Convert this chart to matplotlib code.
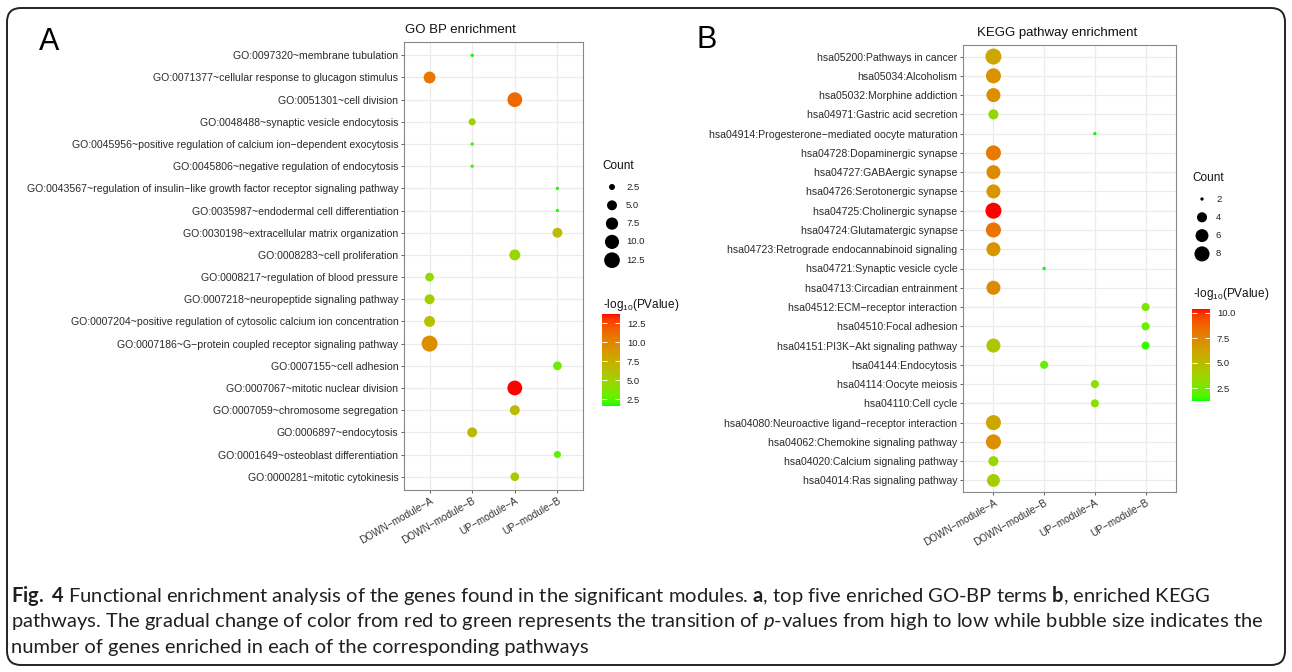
import numpy as np
import matplotlib
matplotlib.use('Agg')
import matplotlib.pyplot as plt
from matplotlib import cm
from matplotlib.colors import ListedColormap, Normalize
from matplotlib.patches import FancyBboxPatch

plt.rcParams['font.family'] = ['Liberation Sans', 'DejaVu Sans']
plt.rcParams['mathtext.fontset'] = 'custom'
plt.rcParams['mathtext.rm'] = 'Lato'
plt.rcParams['mathtext.bf'] = 'Lato:bold'
plt.rcParams['mathtext.it'] = 'Lato:italic'
plt.rcParams['mathtext.default'] = 'regular'

modules = ['DOWN−module−A', 'DOWN−module−B', 'UP−module−A', 'UP−module−B']

# panel A: GO BP
go_terms = [
    'GO:0097320~membrane tubulation',
    'GO:0071377~cellular response to glucagon stimulus',
    'GO:0051301~cell division',
    'GO:0048488~synaptic vesicle endocytosis',
    'GO:0045956~positive regulation of calcium ion−dependent exocytosis',
    'GO:0045806~negative regulation of endocytosis',
    'GO:0043567~regulation of insulin−like growth factor receptor signaling pathway',
    'GO:0035987~endodermal cell differentiation',
    'GO:0030198~extracellular matrix organization',
    'GO:0008283~cell proliferation',
    'GO:0008217~regulation of blood pressure',
    'GO:0007218~neuropeptide signaling pathway',
    'GO:0007204~positive regulation of cytosolic calcium ion concentration',
    'GO:0007186~G−protein coupled receptor signaling pathway',
    'GO:0007155~cell adhesion',
    'GO:0007067~mitotic nuclear division',
    'GO:0007059~chromosome segregation',
    'GO:0006897~endocytosis',
    'GO:0001649~osteoblast differentiation',
    'GO:0000281~mitotic cytokinesis',
]
go_module = [1, 0, 2, 1, 1, 1, 3, 3, 3, 2, 0, 0, 0, 0, 3, 2, 2, 1, 3, 2]
go_count = [2, 7, 11, 3, 2, 2, 2, 2, 5, 6, 4, 5, 6, 13, 4, 11, 5, 5, 3, 4]
go_logp = [1.6, 10.7, 11.3, 5.0, 1.8, 1.8, 1.7, 1.7, 6.5, 4.6,
           4.4, 5.2, 6.3, 9.4, 2.9, 13.7, 6.6, 6.6, 2.6, 5.6]

# panel B: KEGG
kegg_terms = [
    'hsa05200:Pathways in cancer',
    'hsa05034:Alcoholism',
    'hsa05032:Morphine addiction',
    'hsa04971:Gastric acid secretion',
    'hsa04914:Progesterone−mediated oocyte maturation',
    'hsa04728:Dopaminergic synapse',
    'hsa04727:GABAergic synapse',
    'hsa04726:Serotonergic synapse',
    'hsa04725:Cholinergic synapse',
    'hsa04724:Glutamatergic synapse',
    'hsa04723:Retrograde endocannabinoid signaling',
    'hsa04721:Synaptic vesicle cycle',
    'hsa04713:Circadian entrainment',
    'hsa04512:ECM−receptor interaction',
    'hsa04510:Focal adhesion',
    'hsa04151:PI3K−Akt signaling pathway',
    'hsa04144:Endocytosis',
    'hsa04114:Oocyte meiosis',
    'hsa04110:Cell cycle',
    'hsa04080:Neuroactive ligand−receptor interaction',
    'hsa04062:Chemokine signaling pathway',
    'hsa04020:Calcium signaling pathway',
    'hsa04014:Ras signaling pathway',
]
kegg_pt_term = [0, 1, 2, 3, 4, 5, 6, 7, 8, 9, 10, 11, 12, 13, 14, 15, 15, 16, 17, 18, 19, 20, 21, 22]
kegg_module = [0, 0, 0, 0, 2, 0, 0, 0, 0, 0, 0, 1, 0, 3, 3, 0, 3, 1, 2, 2, 0, 0, 0, 0]
kegg_count = [9, 8, 7, 4, 2, 8, 7, 7, 9, 8, 7, 2, 7, 3, 3, 7, 3, 3, 3, 3, 8, 8, 4, 6]
kegg_logp = [6.0, 7.0, 7.2, 3.5, 1.2, 7.9, 7.3, 6.8, 10.4, 8.2, 6.9, 1.2,
             7.3, 2.7, 2.3, 4.4, 1.5, 2.2, 3.0, 3.0, 6.0, 7.1, 3.4, 4.0]


def srgb_to_lab(rgb):
    c = np.asarray(rgb, float)
    c = np.where(c > 0.04045, ((c + 0.055) / 1.055) ** 2.4, c / 12.92)
    m = np.array([[0.4124, 0.3576, 0.1805], [0.2126, 0.7152, 0.0722], [0.0193, 0.1192, 0.9505]])
    xyz = m @ c / np.array([0.95047, 1.0, 1.08883])
    f = np.where(xyz > 0.008856, np.cbrt(xyz), 7.787 * xyz + 16 / 116)
    return np.array([116 * f[1] - 16, 500 * (f[0] - f[1]), 200 * (f[1] - f[2])])


def lab_to_srgb(lab):
    L, a, b = lab
    fy = (L + 16) / 116
    f = np.array([fy + a / 500, fy, fy - b / 200])
    xyz = np.where(f ** 3 > 0.008856, f ** 3, (f - 16 / 116) / 7.787) * np.array([0.95047, 1.0, 1.08883])
    m = np.array([[3.2406, -1.5372, -0.4986], [-0.9689, 1.8758, 0.0415], [0.0557, -0.2040, 1.0570]])
    c = m @ xyz
    c = np.where(c > 0.0031308, 1.055 * np.clip(c, 0, None) ** (1 / 2.4) - 0.055, 12.92 * c)
    return np.clip(c, 0, 1)


lab_lo, lab_hi = srgb_to_lab([0, 1, 0]), srgb_to_lab([1, 0, 0])
cmap = ListedColormap([lab_to_srgb(lab_lo + t * (lab_hi - lab_lo)) for t in np.linspace(0, 1, 256)])

W, H = 1292, 672
fig = plt.figure(figsize=(W / 100, H / 100), dpi=100)


def px_axes(x0, y0, x1, y1):
    return fig.add_axes([x0 / W, 1 - y1 / H, (x1 - x0) / W, (y1 - y0) / H])


over = fig.add_axes([0, 0, 1, 1], zorder=-5)
over.set_xlim(0, W)
over.set_ylim(H, 0)
over.axis('off')
over.add_patch(FancyBboxPatch((7, 8), 1278, 657, boxstyle='round,pad=0,rounding_size=14',
                              fc='none', ec='#222222', lw=1.4))


def dot_size(v, vmin, vmax):
    d = 3.3 + 12.7 * np.sqrt((np.asarray(v, float) - vmin) / (vmax - vmin))
    return (d * 0.72) ** 2


def panel(box, terms, rows, mods, counts, logp, title, title_x, title_y,
          breaks, leg_x, leg_y, cbox, cticks, ctitle_y):
    ax = px_axes(*box)
    n = len(terms)
    ypos = n - 1 - np.asarray(rows)
    cmin, cmax = min(counts), max(counts)
    norm = Normalize(min(logp), max(logp))
    ax.scatter(np.asarray(mods) + 1, ypos, s=dot_size(counts, cmin, cmax),
               c=logp, cmap=cmap, norm=norm, linewidths=0, zorder=3)
    ax.set_xlim(0.4, 4.6)
    ax.set_ylim(-0.6, n - 0.4)
    ax.set_xticks(range(1, 5))
    ax.set_xticklabels(modules, rotation=30, ha='right', va='top', rotation_mode='anchor',
                       fontsize=7.2, color='#333333')
    ax.set_yticks(range(n))
    ax.set_yticklabels(terms[::-1], fontsize=7.6, color='#2a2a2a')
    ax.tick_params(length=2.5, width=0.6, color='#444444', pad=1.5)
    ax.grid(True, color='#EBEBEB', lw=0.9, zorder=0)
    ax.set_axisbelow(True)
    for sp in ax.spines.values():
        sp.set_color('#888888')
        sp.set_linewidth(0.8)
    over.text(title_x, title_y, title, fontsize=9.5, ha='left', va='center', color='#111111')

    # size legend
    over.text(leg_x - 10, leg_y - 21, 'Count', fontsize=8.5, ha='left', va='center', color='#111111')
    ky = leg_y + 18.3 * np.arange(len(breaks))
    over.scatter(np.full(len(breaks), leg_x), ky, s=dot_size(breaks, cmin, cmax), c='black', linewidths=0)
    for b, y in zip(breaks, ky):
        over.text(leg_x + 14, y, ('%g' % b) if float(b).is_integer() and len(breaks) < 5 else '%.1f' % b,
                  fontsize=6.8, ha='left', va='center', color='#222222')

    # colour bar
    cax = px_axes(*cbox)
    cb = fig.colorbar(cm.ScalarMappable(norm=norm, cmap=cmap), cax=cax)
    cb.outline.set_visible(False)
    cb.set_ticks(cticks)
    cb.set_ticklabels(['%.1f' % t for t in cticks])
    cax.tick_params(direction='in', length=3.5, width=0.7, color='white', left=True, right=True,
                    labelsize=6.8, labelcolor='#222222', pad=5)
    over.text(cbox[0] + 1, ctitle_y, '-log$_{10}$(PValue)', fontsize=8.5, ha='left', va='center',
              color='#111111')


panel((404, 42, 583, 490), go_terms, list(range(len(go_terms))), go_module, go_count, go_logp,
      'GO BP enrichment', 405, 30, [2.5, 5.0, 7.5, 10.0, 12.5], 612, 187,
      (602, 314, 620, 406), [2.5, 5.0, 7.5, 10.0, 12.5], 305)
panel((963, 45, 1176, 492), kegg_terms, kegg_pt_term, kegg_module, kegg_count, kegg_logp,
      'KEGG pathway enrichment', 977, 33, [2, 4, 6, 8], 1202, 199,
      (1192, 309, 1210, 401), [2.5, 5.0, 7.5, 10.0], 294)

over.text(49, 42, 'A', fontsize=22, ha='center', va='center', color='black')
over.text(707, 40, 'B', fontsize=22, ha='center', va='center', color='black')

# caption; one font size, the largest that keeps every line inside its width in the figure
cap_lines = [
    r'$\mathbf{Fig.\ 4}$ Functional enrichment analysis of the genes found in the significant '
    r'modules. $\mathbf{a}$, top five enriched GO-BP terms $\mathbf{b}$, enriched KEGG',
    r'pathways. The gradual change of color from red to green represents the transition of '
    r'$\mathit{p}$-values from high to low while bubble size indicates the',
    'number of genes enriched in each of the corresponding pathways',
]
cap_y = [596, 622, 648]
cap_w = [1237, 1256, 582]
renderer = fig.canvas.get_renderer()
sizes = []
for line, w in zip(cap_lines, cap_w):
    probe = over.text(11, 596, line, fontsize=14, family='Lato')
    sizes.append(14 * w / probe.get_window_extent(renderer).width)
    probe.remove()
cap_size = min(sizes)
for line, y in zip(cap_lines, cap_y):
    over.text(11, y, line, fontsize=cap_size, ha='left', va='center', color='#231f20', family='Lato')

fig.savefig('out.png', dpi=100)
